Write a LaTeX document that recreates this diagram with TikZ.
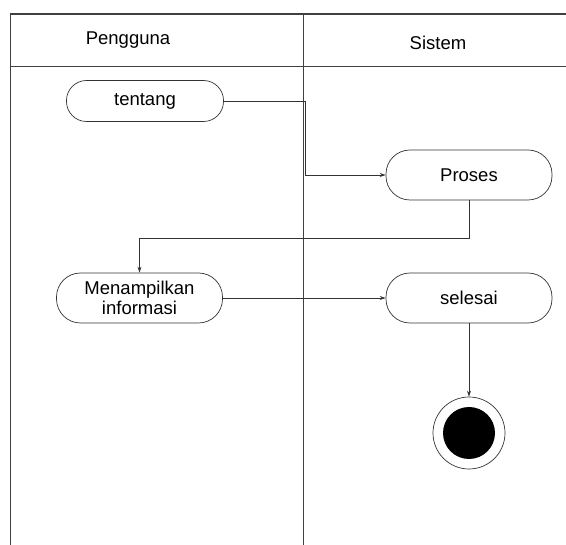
\documentclass[tikz,border=0pt]{standalone}
\usepackage{fontspec}
\setmainfont{Liberation Sans}
\usepackage{tikz}
\usetikzlibrary{arrows.meta,positioning,calc}

\begin{document}
\begin{tikzpicture}[
    x=1pt, y=-1pt,
    lane/.style={draw=black!75, line width=0.9pt},
    activity/.style={draw=black!80, line width=0.7pt, rounded corners=24pt,
        minimum width=166pt, minimum height=50pt, align=center,
        font=\fontsize{18.5}{21}\selectfont},
    flow/.style={draw=black!80, line width=0.7pt, -{Stealth[length=6pt,width=4pt]}},
    lanetitle/.style={font=\fontsize{18.5}{21}\selectfont}
]
    \useasboundingbox (0,0) rectangle (566,545);

    % Swimlanes
    \draw[lane, line width=1.6pt] (10,14) -- (566,14);
    \draw[lane] (10,66) -- (566,66);
    \draw[lane] (10,14) -- (10,545);
    \draw[lane] (303,14) -- (303,545);
    \node[lanetitle] (pengguna) at (128,40) {Pengguna};
    \node[lanetitle] (sistem) at (438,43) {Sistem};

    % Activities
    \node[activity, minimum width=157pt, minimum height=41pt, rounded corners=20pt] (tentang) at (145,101) {tentang};
    \node[activity] (proses) at (469,175) {Proses};
    \node[activity, font=\fontsize{18.5}{20}\selectfont] (info) at (139.5,298) {Menampilkan\\informasi};
    \node[activity] (selesai) at (469,298) {selesai};

    % Final state
    \node[circle, draw=black!80, line width=0.7pt, minimum size=72pt] (akhir) at (469,433) {};
    \node[circle, fill=black, minimum size=52pt] (akhirdot) at (akhir.center) {};

    % Flows
    \coordinate (belok) at (305,101);
    \draw[flow] (tentang.east) -- (belok) |- (proses.west);
    \draw[flow] (proses.south) -- ++(0,38) -| (info.north);
    \draw[flow] (info.east) -- (selesai.west);
    \draw[flow] (selesai.south) -- (akhir.north);
\end{tikzpicture}
\end{document}
